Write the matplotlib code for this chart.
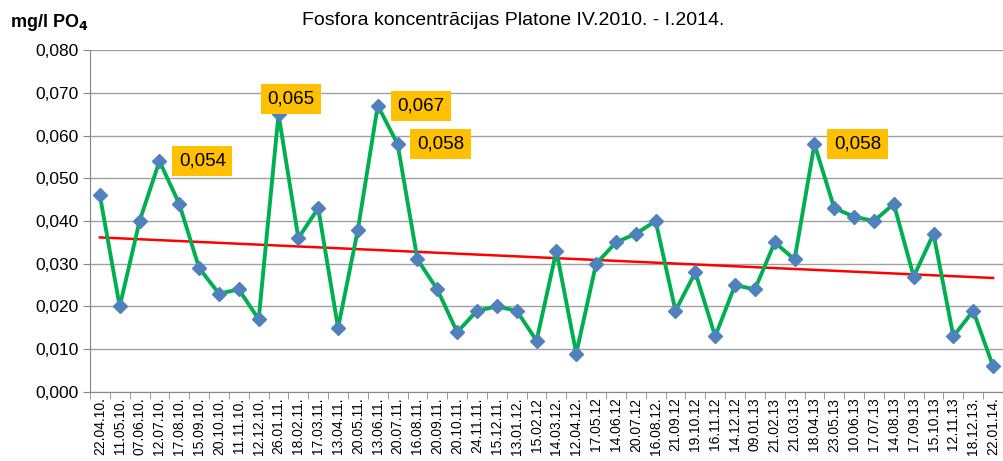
import matplotlib
matplotlib.use("Agg")
import matplotlib.pyplot as plt
import numpy as np

dates = ["22.04.10.", "11.05.10.", "07.06.10.", "12.07.10.", "17.08.10.", "15.09.10.",
         "20.10.10.", "11.11.10.", "12.12.10.", "26.01.11.", "18.02.11.", "17.03.11.",
         "13.04.11.", "20.05.11.", "13.06.11.", "20.07.11.", "16.08.11.", "20.09.11.",
         "20.10.11.", "24.11.11.", "15.12.11.", "13.01.12.", "15.02.12", "14.03.12.",
         "12.04.12.", "17.05.12", "14.06.12", "20.07.12", "16.08.12.", "21.09.12",
         "19.10.12", "16.11.12", "14.12.12", "09.01.13", "21.02.13", "21.03.13",
         "18.04.13", "23.05.13", "10.06.13", "17.07.13", "14.08.13", "17.09.13",
         "15.10.13", "12.11.13", "18.12.13.", "22.01.14."]
values = [0.046, 0.020, 0.040, 0.054, 0.044, 0.029, 0.023, 0.024, 0.017, 0.065,
          0.036, 0.043, 0.015, 0.038, 0.067, 0.058, 0.031, 0.024, 0.014, 0.019,
          0.020, 0.019, 0.012, 0.033, 0.009, 0.030, 0.035, 0.037, 0.040, 0.019,
          0.028, 0.013, 0.025, 0.024, 0.035, 0.031, 0.058, 0.043, 0.041, 0.040,
          0.044, 0.027, 0.037, 0.013, 0.019, 0.006]
labelled = [3, 9, 14, 15, 36]
label_side = ["right", "above", "right", "right", "right"]

plt.rcParams['font.family'] = ['Liberation Sans', 'DejaVu Sans']
fig = plt.figure(figsize=(10.04, 4.61), dpi=100)
ax = fig.add_axes([0.0896, 0.1497, 0.9094, 0.7418])

x = np.arange(len(values))
ax.plot(x, values, color="#00B050", lw=2.8, zorder=3)
ax.plot(x, values, linestyle="none", marker="D", markersize=7.5,
        color="#4F81BD", markeredgecolor="#4F81BD", zorder=4)

coef = np.polyfit(x, values, 1)
ax.plot(x, np.polyval(coef, x), color="#FF0000", lw=1.8, zorder=2)

box = dict(boxstyle="square,pad=0.35", fc="#FFC000", ec="none")
for i, side in zip(labelled, label_side):
    txt = "{:.3f}".format(values[i]).replace(".", ",")
    if side == "right":
        ax.annotate(txt, (x[i], values[i]), xytext=(14, 0), textcoords="offset points",
                    ha="left", va="center", fontsize=13.5, bbox=box, zorder=5)
    else:
        ax.annotate(txt, (x[i], values[i]), xytext=(9, 11), textcoords="offset points",
                    ha="center", va="center", fontsize=13.5, bbox=box, zorder=5)

ax.set_xlim(-0.5, len(values) - 0.5)
ax.set_ylim(0, 0.08)
yt = np.arange(0, 0.0801, 0.01)
ax.set_yticks(yt)
ax.set_yticklabels(["{:.3f}".format(v).replace(".", ",") for v in yt], fontsize=12.5)
ax.set_xticks(x)
ax.set_xticklabels(dates, rotation=90, fontsize=10)
ax.set_xticks(np.arange(-0.5, len(values)), minor=True)
ax.tick_params(axis="x", which="major", length=0, pad=4)
ax.tick_params(axis="x", which="minor", length=5, color="#868686")
ax.tick_params(axis="y", length=5, color="#868686", pad=3)
ax.grid(axis="y", color="#A0A0A0", lw=1)
ax.set_axisbelow(True)
for s in ["top", "right"]:
    ax.spines[s].set_visible(False)
for s in ["left", "bottom"]:
    ax.spines[s].set_color("#868686")

fig.text(0.511, 0.955, "Fosfora koncentrācijas Platone IV.2010. - I.2014.",
         ha="center", va="center", fontsize=14)
fig.text(0.010, 0.952, "mg/l PO$_\\mathbf{4}$", ha="left", va="center",
         fontsize=13, fontweight="bold")

fig.savefig("out.png", dpi=100)
